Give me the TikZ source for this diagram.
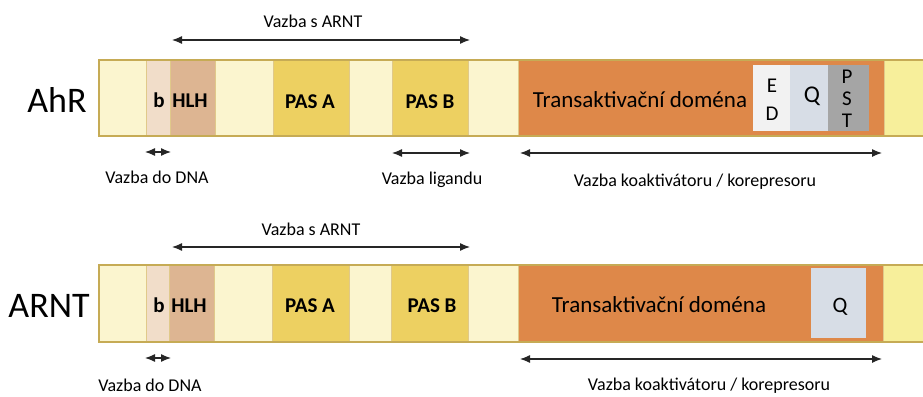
\documentclass[tikz,border=0pt]{standalone}
\usepackage{fontspec}
\setmainfont{Carlito}
\usetikzlibrary{arrows.meta}

\definecolor{cream}{HTML}{FBF5CF}
\definecolor{bpale}{HTML}{F1DDC9}
\definecolor{hlhtan}{HTML}{DDB592}
\definecolor{pasyel}{HTML}{EDD061}
\definecolor{tadorange}{HTML}{DE8849}
\definecolor{edgrey}{HTML}{F2F2F2}
\definecolor{qblue}{HTML}{D7DDE6}
\definecolor{pstgrey}{HTML}{A5A5A5}
\definecolor{endyel}{HTML}{F7EF9B}
\definecolor{barline}{HTML}{C6AB55}
\definecolor{segline}{HTML}{E0C98A}

\tikzset{
  seg/.style={draw=segline, line width=0.6pt},
  bar/.style={draw=barline, line width=2.2pt},
  prot/.style={font=\fontsize{36}{40}\selectfont, anchor=base, inner sep=0pt},
  lbl/.style={font=\fontsize{18}{20}\selectfont, anchor=base, inner sep=0pt},
  dom/.style={font=\bfseries\fontsize{21}{24}\selectfont, anchor=base, inner sep=0pt},
  tad/.style={font=\fontsize{23}{26}\selectfont, anchor=base, inner sep=0pt},
  motif/.style={font=\fontsize{21}{24}\selectfont, anchor=base, inner sep=0pt, align=center},
  bind/.style={{Latex[length=10pt,width=8pt]}-{Latex[length=10pt,width=8pt]}, line width=1.2pt, draw=black!85},
}

\begin{document}
\begin{tikzpicture}[x=1pt,y=-1pt]
\useasboundingbox (0,0) rectangle (923,396);
%% AhR
\filldraw[seg, fill=cream] (99,60) rectangle (146,136);
\filldraw[seg, fill=bpale] (146,60) rectangle (170,136);
\filldraw[seg, fill=hlhtan] (170,60) rectangle (215,136);
\filldraw[seg, fill=cream] (215,60) rectangle (273,136);
\filldraw[seg, fill=pasyel] (273,60) rectangle (349,136);
\filldraw[seg, fill=cream] (349,60) rectangle (392,136);
\filldraw[seg, fill=pasyel] (392,60) rectangle (468,136);
\filldraw[seg, fill=cream] (468,60) rectangle (518,136);
\filldraw[seg, fill=tadorange] (518,60) rectangle (884,136);
\filldraw[seg, fill=endyel] (884,60) rectangle (930,136);
\fill[edgrey] (753,65) rectangle (790,131);
\fill[qblue] (790,65) rectangle (828,131);
\fill[pstgrey] (828,65) rectangle (869,131);
\draw[bar] (923,60) -- (99,60) -- (99,136) -- (923,136);
\node[prot] (ahr) at (57,112) {AhR};
\node[dom] (ahrb) at (159,107) {b};
\node[dom] (ahrhlh) at (190,107) {HLH};
\node[dom] (ahrpasa) at (310,108) {PAS A};
\node[dom] (ahrpasb) at (430,108) {PAS B};
\node[tad] (ahrtad) at (640,107) {Transaktivační doména};
\node[motif, font=\fontsize{21}{28}\selectfont] (ahred) at (772,120) {E\\D};
\node[motif, font=\fontsize{24}{26}\selectfont] (ahrq) at (812,102) {Q};
\node[motif, font=\fontsize{21}{22}\selectfont] (ahrpst) at (847,127) {P\\S\\T};
%% AhR binding arrows
\node[lbl] (ahrarntlbl) at (313,28) {Vazba s ARNT};
\coordinate (ahrarntL) at (172,40);
\coordinate (ahrarntR) at (470,40);
\draw[bind] (ahrarntL) -- (ahrarntR);
\coordinate (ahrdnaL) at (145,152);
\coordinate (ahrdnaR) at (171,152);
\draw[bind] (ahrdnaL) -- (ahrdnaR);
\node[lbl] (ahrdnalbl) at (157,183) {Vazba do DNA};
\coordinate (ahrligL) at (392,153);
\coordinate (ahrligR) at (470,153);
\draw[bind] (ahrligL) -- (ahrligR);
\node[lbl] (ahrliglbl) at (432,184) {Vazba ligandu};
\coordinate (ahrcoL) at (520,153);
\coordinate (ahrcoR) at (882,153);
\draw[bind] (ahrcoL) -- (ahrcoR);
\node[lbl] (ahrcolbl) at (695,186) {Vazba koaktivátoru / korepresoru};
%% ARNT
\filldraw[seg, fill=cream] (99,265) rectangle (146,342);
\filldraw[seg, fill=bpale] (146,265) rectangle (169,342);
\filldraw[seg, fill=hlhtan] (169,265) rectangle (214,342);
\filldraw[seg, fill=cream] (214,265) rectangle (272,342);
\filldraw[seg, fill=pasyel] (272,265) rectangle (349,342);
\filldraw[seg, fill=cream] (349,265) rectangle (391,342);
\filldraw[seg, fill=pasyel] (391,265) rectangle (468,342);
\filldraw[seg, fill=cream] (468,265) rectangle (518,342);
\filldraw[seg, fill=tadorange] (518,265) rectangle (883,342);
\filldraw[seg, fill=endyel] (883,265) rectangle (930,342);
\fill[qblue] (811,268) rectangle (866,338);
\draw[bar] (923,265) -- (99,265) -- (99,342) -- (923,342);
\node[prot] (arnt) at (49,317) {ARNT};
\node[dom] (arntb) at (159,312) {b};
\node[dom] (arnthlh) at (189,312) {HLH};
\node[dom] (arntpasa) at (310,312) {PAS A};
\node[dom] (arntpasb) at (432,312) {PAS B};
\node[tad] (arnttad) at (659,312) {Transaktivační doména};
\node[motif, font=\fontsize{22}{24}\selectfont] (arntq) at (840,312) {Q};
%% ARNT binding arrows
\node[lbl] (arntarntlbl) at (311,235) {Vazba s ARNT};
\coordinate (arntarntL) at (172,247);
\coordinate (arntarntR) at (470,247);
\draw[bind] (arntarntL) -- (arntarntR);
\coordinate (arntdnaL) at (145,358);
\coordinate (arntdnaR) at (171,358);
\draw[bind] (arntdnaL) -- (arntdnaR);
\node[lbl] (arntdnalbl) at (150,391) {Vazba do DNA};
\coordinate (arntcoL) at (520,359);
\coordinate (arntcoR) at (882,359);
\draw[bind] (arntcoL) -- (arntcoR);
\node[lbl] (arntcolbl) at (709,390) {Vazba koaktivátoru / korepresoru};
\end{tikzpicture}
\end{document}
